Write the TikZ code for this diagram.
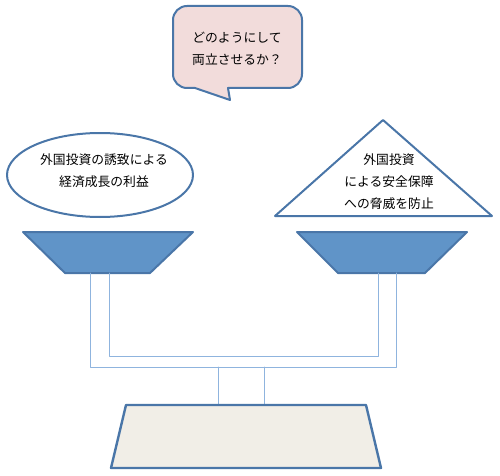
\documentclass[tikz,border=0pt]{standalone}
\usepackage{fontspec}
\newfontfamily\cjk{Noto Sans CJK JP}
\definecolor{rim}{HTML}{4A76A8}
\definecolor{bubblepink}{HTML}{F2DCDB}
\definecolor{panblue}{HTML}{6094C8}
\definecolor{pipeblue}{HTML}{8FB4DE}
\definecolor{basefill}{HTML}{F1EEE7}

\begin{document}
\begin{tikzpicture}[line cap=round,line join=round,x=1pt,y=1pt]
	\useasboundingbox (0,0) rectangle (500,475);
	\tikzset{
		label text/.style={font=\cjk\fontsize{12.8}{22}\selectfont,align=center,inner sep=0pt},
		rim line/.style={draw=rim,line width=2pt}
	}
	% Speech bubble
	\draw [rim line,fill=bubblepink] (195,387) -- (230,375) -- (228,387) -- (288,387)
		arc[start angle=-90,end angle=0,radius=14pt] -- (302,455)
		arc[start angle=0,end angle=90,radius=14pt] -- (187,469)
		arc[start angle=90,end angle=180,radius=14pt] -- (173,401)
		arc[start angle=180,end angle=270,radius=14pt] -- cycle;
	\node [label text] (question) at (237,426.5) {どのようにして\\両立させるか？};

	% Ellipse (left side)
	\draw [rim line,fill=white] (100,300) ellipse [x radius=93,y radius=42];
	\node [label text] (benefit) at (104,304) {外国投資の誘致による\\経済成長の利益};

	% Triangle (right side)
	\draw [rim line,fill=white] (383,355) -- (492,259) -- (275,259) -- cycle;
	\node [label text] (security) at (389,293.5) {外国投資\hspace{1em}\\による安全保障\\への脅威を防止};

	% Pans
	\draw [rim line,fill=panblue] (23,243) -- (193,243) -- (150,202) -- (65,202) -- cycle;
	\draw [rim line,fill=panblue] (297,243) -- (467,243) -- (425,202) -- (338,202) -- cycle;

	%% Beam
	\draw [color=pipeblue][line width=0.9pt] (90,202) -- (90,108) -- (396,108) -- (396,202);
	\draw [color=pipeblue][line width=0.9pt] (109,202) -- (109,119) -- (378,119) -- (378,202);
	\draw [color=pipeblue][line width=0.9pt] (218,108) -- (218,70);
	\draw [color=pipeblue][line width=0.9pt] (264,108) -- (264,70);

	% Base
	\draw [rim line,line width=2.4pt,fill=basefill] (126,70) -- (366,70) -- (381,7) -- (111,7) -- cycle;
\end{tikzpicture}
\end{document}
